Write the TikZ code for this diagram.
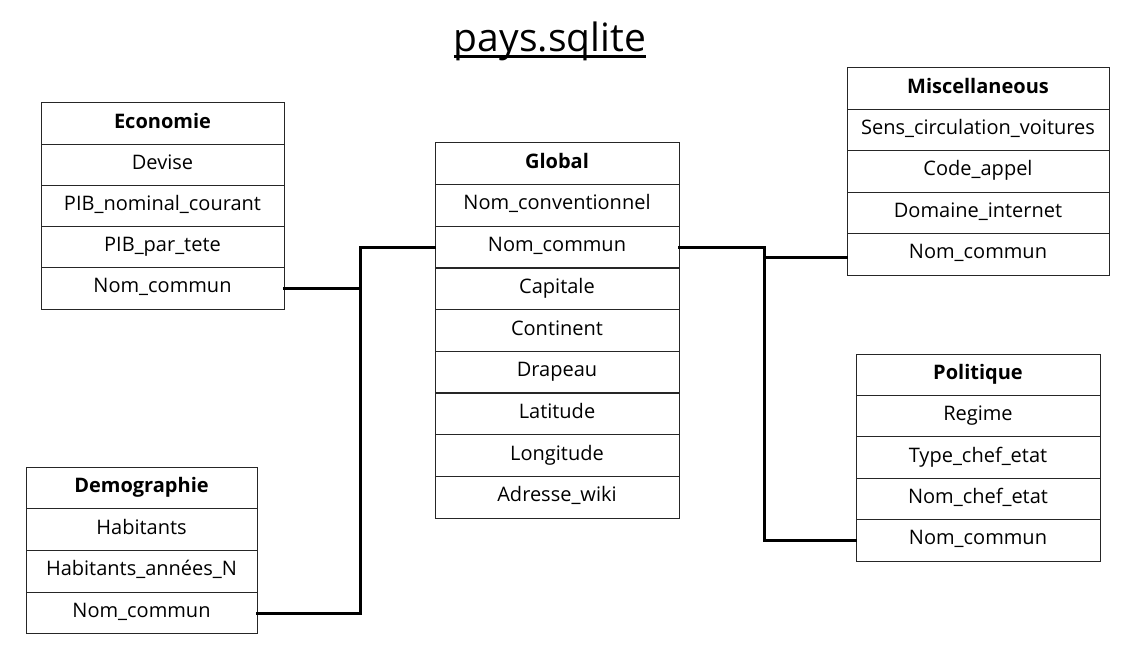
\documentclass[tikz,border=0pt]{standalone}
\usepackage{fontspec}
\setmainfont{Open Sans}
\begin{document}
\begin{tikzpicture}[x=1pt,y=-1pt,
  cell/.style={draw=black!85,line width=1pt,inner sep=0pt,anchor=center,text height=14pt,text depth=5pt,font=\fontsize{20}{24}\selectfont},
  head/.style={cell,font=\fontsize{20}{24}\selectfont\bfseries},
  link/.style={line width=3pt,line cap=rect}]
\useasboundingbox (0,0) rectangle (1136,658);
% title
\node[inner sep=0pt,anchor=base,font=\fontsize{39}{44}\selectfont] (title) at (550,52) {pays.sqlite};
\draw[line width=3pt] ([yshift=-5pt]title.base west) -- ([yshift=-5pt]title.base east);
% Economie
\tikzset{ec/.style={cell,minimum width=243pt,minimum height=41.2pt}}
\node[ec,head] (e1) at (162.5,123.6) {Economie};
\node[ec] (e2) at (162.5,164.8) {Devise};
\node[ec] (e3) at (162.5,206.0) {PIB\_nominal\_courant};
\node[ec] (e4) at (162.5,247.2) {PIB\_par\_tete};
\node[ec] (e5) at (162.5,288.4) {Nom\_commun};
% Global
\tikzset{gc/.style={cell,minimum width=244pt,minimum height=41.67pt}}
\node[gc,head] (g1) at (557,163.8) {Global};
\node[gc] (g2) at (557,205.5) {Nom\_conventionnel};
\node[gc] (g3) at (557,247.2) {Nom\_commun};
\node[gc] (g4) at (557,288.8) {Capitale};
\node[gc] (g5) at (557,330.5) {Continent};
\node[gc] (g6) at (557,372.2) {Drapeau};
\node[gc] (g7) at (557,413.8) {Latitude};
\node[gc] (g8) at (557,455.5) {Longitude};
\node[gc] (g9) at (557,497.2) {Adresse\_wiki};
% Miscellaneous
\tikzset{mc/.style={cell,minimum width=262pt,minimum height=41.4pt}}
\node[mc,head] (m1) at (978,88.7) {Miscellaneous};
\node[mc] (m2) at (978,130.1) {Sens\_circulation\_voitures};
\node[mc] (m3) at (978,171.5) {Code\_appel};
\node[mc] (m4) at (978,212.9) {Domaine\_internet};
\node[mc] (m5) at (978,254.3) {Nom\_commun};
% Politique
\tikzset{pc/.style={cell,minimum width=244pt,minimum height=41.4pt}}
\node[pc,head] (p1) at (978,374.7) {Politique};
\node[pc] (p2) at (978,416.1) {Regime};
\node[pc] (p3) at (978,457.5) {Type\_chef\_etat};
\node[pc] (p4) at (978,498.9) {Nom\_chef\_etat};
\node[pc] (p5) at (978,540.3) {Nom\_commun};
% Demographie
\tikzset{dc/.style={cell,minimum width=231pt,minimum height=41.75pt}}
\node[dc,head] (d1) at (141.5,487.9) {Demographie};
\node[dc] (d2) at (141.5,529.6) {Habitants};
\node[dc] (d3) at (141.5,571.4) {Habitants\_années\_N};
\node[dc] (d4) at (141.5,613.1) {Nom\_commun};
% junctions
\coordinate (jl) at (360,0);
\coordinate (jr) at (764,0);
\draw[link] (g3.west) -- (g3.west -| jl) |- (d4.east);
\draw[link] (e5.east) -- (e5.east -| jl);
\draw[link] (g3.east) -- (g3.east -| jr) |- (p5.west);
\draw[link] ([yshift=-3pt]m5.west) -- ([yshift=-3pt]m5.west -| jr);
\end{tikzpicture}
\end{document}
